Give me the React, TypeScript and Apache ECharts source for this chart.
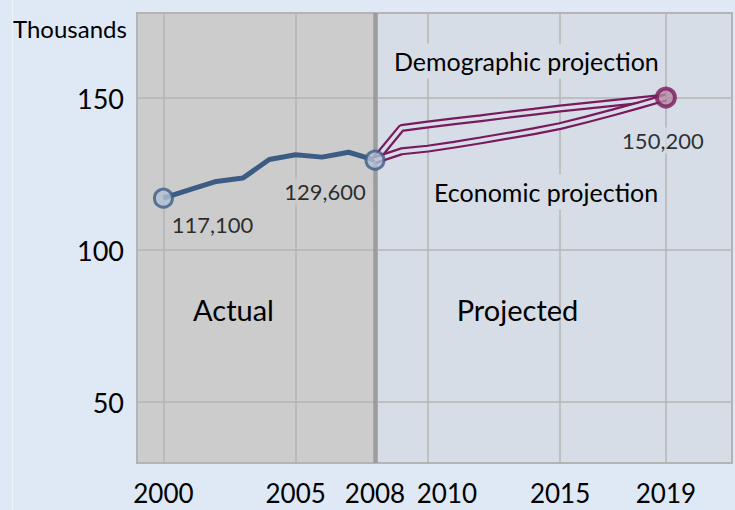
import React, { useEffect, useRef } from "react";
import * as echarts from "echarts";

const actualYears = [2000, 2001, 2002, 2003, 2004, 2005, 2006, 2007, 2008];
const actualValues = [117.1, 119.9, 122.6, 123.7, 129.8, 131.4, 130.6, 132.2, 129.6];
const projYears = [2008, 2009, 2010, 2011, 2012, 2013, 2014, 2015, 2016, 2017, 2018, 2019];
const demographicValues = [129.6, 140.2, 141.3, 142.4, 143.4, 144.5, 145.5, 146.6, 147.5, 148.4, 149.3, 150.2];
const economicValues = [129.6, 132.5, 133.4, 134.7, 136.1, 137.6, 139.1, 140.8, 143.0, 145.3, 147.7, 150.2];
const xTicks = [2000, 2005, 2008, 2010, 2015, 2019];
const yTicks = [50, 100, 150];
const xMin = 1999;
const xMax = 2021.5;
const yMin = 30;
const yMax = 178;
const splitYear = 2008;

const FONT = "Lato, 'Open Sans', sans-serif";
const PAGE_BG = "#dfe8f5";
const ACTUAL_BG = "#cccccc";
const PROJ_BG = "#d6dde6";
const GRID_C = "#b4b4b4";
const BLUE = "#3d5c84";
const BLUE_FILL = "#b2c1d5";
const PURPLE = "#7a1a5e";
const PURPLE_FILL = "#b58ba5";

const fmt = (v: number) => Math.round(v * 1000).toLocaleString("en-US");

export default function App() {
  const ref = useRef<HTMLDivElement>(null);
  useEffect(() => {
    if (!ref.current) return;
    const chart = echarts.init(ref.current, null, { renderer: "svg" });
    const zip = (xs: number[], ys: number[]) => xs.map((x, i) => [x, ys[i]]);
    const lastA = actualValues.length - 1;
    const lastP = demographicValues.length - 1;

    const blueMarker = {
      symbol: "circle",
      symbolSize: 18,
      itemStyle: { color: BLUE_FILL, borderColor: BLUE, borderWidth: 3 },
    };
    const lbl = { show: true, fontSize: 22, color: "#000", fontFamily: FONT, position: "bottom" };

    chart.setOption({
      animation: false,
      backgroundColor: PAGE_BG,
      textStyle: { fontFamily: FONT },
      grid: {
        left: 137,
        top: 13,
        right: 3,
        bottom: 47,
        show: true,
        borderColor: GRID_C,
        borderWidth: 2,
        backgroundColor: "transparent",
        z: 1,
      },
      xAxis: {
        type: "value",
        min: xMin,
        max: xMax,
        z: 1,
        axisLine: { show: false },
        axisTick: { show: false, customValues: xTicks },
        splitLine: { show: true, lineStyle: { color: GRID_C, width: 1.5 } },
        axisLabel: {
          customValues: xTicks,
          margin: 17,
          fontSize: 26,
          lineHeight: 26,
          color: "#000",
          fontFamily: FONT,
          formatter: (v: number) => (v === 2010 ? "{s|2010}" : String(v)),
          rich: { s: { fontSize: 26, lineHeight: 26, color: "#000", fontFamily: FONT, padding: [0, 0, 0, 38] } },
        },
      },
      yAxis: {
        type: "value",
        min: yMin,
        max: yMax,
        z: 1,
        axisLine: { show: false },
        axisTick: { show: false, customValues: yTicks },
        splitLine: { show: true, lineStyle: { color: GRID_C, width: 1.5 } },
        axisLabel: {
          customValues: yTicks,
          margin: 13,
          fontSize: 27,
          color: "#000",
          fontFamily: FONT,
        },
      },
      series: [
        {
          type: "line",
          data: [],
          z: 0,
          markArea: {
            silent: true,
            z: 0,
            data: [
              [{ xAxis: xMin, itemStyle: { color: ACTUAL_BG } }, { xAxis: splitYear }],
              [{ xAxis: splitYear, itemStyle: { color: PROJ_BG } }, { xAxis: xMax }],
            ],
          },
        },
        {
          type: "line",
          data: [],
          markLine: {
            silent: true,
            z: 1.5,
            symbol: "none",
            label: { show: false },
            lineStyle: { color: "#9c9c9c", width: 4.5, type: "solid" },
            data: [{ xAxis: splitYear }],
          },
        },
        {
          type: "line",
          z: 3,
          data: zip(actualYears, actualValues),
          symbol: "none",
          lineStyle: { color: BLUE, width: 5 },
        },
        {
          type: "line",
          z: 3,
          data: zip(projYears, demographicValues),
          symbol: "none",
          lineStyle: { color: PURPLE, width: 8 },
        },
        {
          type: "line",
          z: 3,
          data: zip(projYears, demographicValues),
          symbol: "none",
          lineStyle: { color: PROJ_BG, width: 3.6 },
        },
        {
          type: "line",
          z: 3,
          data: zip(projYears, economicValues),
          symbol: "none",
          lineStyle: { color: PURPLE, width: 8 },
        },
        {
          type: "line",
          z: 3,
          data: zip(projYears, economicValues),
          symbol: "none",
          lineStyle: { color: PROJ_BG, width: 3.6 },
        },
        {
          type: "scatter",
          z: 4,
          data: [
            {
              value: [actualYears[0], actualValues[0]],
              ...blueMarker,
              label: { ...lbl, offset: [49, 0] },
            },
            {
              value: [actualYears[lastA], actualValues[lastA]],
              ...blueMarker,
              label: { ...lbl, offset: [-50, 3], backgroundColor: ACTUAL_BG, padding: [2, 3] },
            },
            {
              value: [projYears[lastP], demographicValues[lastP]],
              symbol: "circle",
              symbolSize: 18,
              itemStyle: { color: PURPLE_FILL, borderColor: PURPLE, borderWidth: 4 },
              label: { ...lbl, offset: [-3, 14], backgroundColor: PROJ_BG, padding: [2, 3] },
            },
          ],
          label: {
            show: true,
            fontSize: 22,
            color: "#000",
            fontFamily: FONT,
            formatter: (p: any) => fmt(p.value[1]),
          },
        },
      ],
      graphic: [
        {
          type: "line",
          z: 0,
          silent: true,
          shape: { x1: 12.5, y1: 0, x2: 12.5, y2: 510 },
          style: { stroke: "#eef3fa", lineWidth: 1 },
        },
        {
          type: "text",
          z: 10,
          x: 13,
          y: 28,
          style: {
            text: "Thousands",
            font: `24px ${FONT}`,
            fill: "#000",
            textVerticalAlign: "middle",
          },
        },
        {
          type: "text",
          z: 10,
          x: 390,
          y: 61,
          style: {
            text: "Demographic projection",
            font: `25px ${FONT}`,
            fill: "#000",
            textVerticalAlign: "middle",
            backgroundColor: PROJ_BG,
            padding: [5, 4],
          },
        },
        {
          type: "text",
          z: 10,
          x: 430,
          y: 192,
          style: {
            text: "Economic projection",
            font: `25px ${FONT}`,
            fill: "#000",
            textVerticalAlign: "middle",
            backgroundColor: PROJ_BG,
            padding: [5, 4],
          },
        },
        {
          type: "text",
          z: 10,
          x: 233.5,
          y: 309,
          style: {
            text: "Actual",
            font: `29px ${FONT}`,
            fill: "#000",
            textAlign: "center",
            textVerticalAlign: "middle",
          },
        },
        {
          type: "text",
          z: 10,
          x: 517.5,
          y: 309,
          style: {
            text: "Projected",
            font: `29px ${FONT}`,
            fill: "#000",
            textAlign: "center",
            textVerticalAlign: "middle",
          },
        },
      ],
    });
    return () => chart.dispose();
  }, []);
  return <div ref={ref} style={{ width: 735, height: 510, position: "absolute", left: 0, top: 0 }} />;
}
